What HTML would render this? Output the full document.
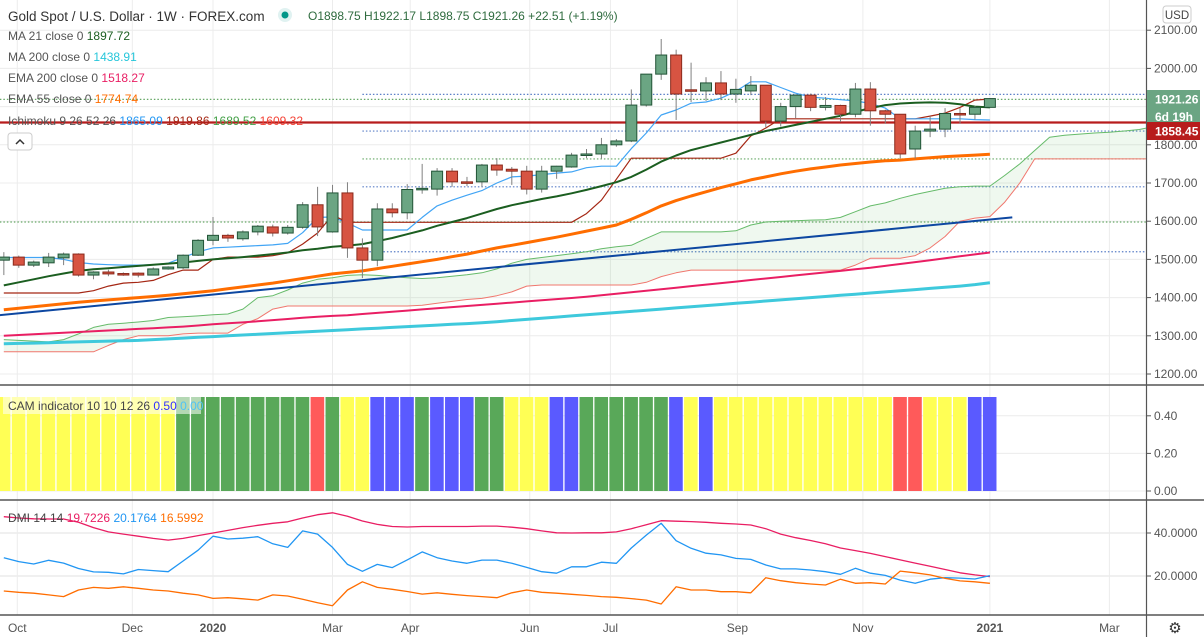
<!DOCTYPE html>
<html><head><meta charset="utf-8"><style>
html,body{margin:0;padding:0;background:#fff;}
body{width:1204px;height:637px;overflow:hidden;font-family:"Liberation Sans","DejaVu Sans",sans-serif;}
svg text{font-family:"Liberation Sans","DejaVu Sans",sans-serif;}
</style></head><body>
<svg id="chart" width="1204" height="637" viewBox="0 0 1204 637" xmlns="http://www.w3.org/2000/svg">
<defs>
<clipPath id="mainClip"><rect x="0" y="0" width="1146" height="385"/></clipPath>
<clipPath id="dmiClip"><rect x="0" y="500" width="1146" height="115"/></clipPath>
</defs>
<g id="grid"></g>
<g id="levels" clip-path="url(#mainClip)"></g>
<g id="cloud" clip-path="url(#mainClip)"></g>
<g id="lines" clip-path="url(#mainClip)"></g>
<g id="candles"></g>
<g id="cam"></g>
<g id="dmi" clip-path="url(#dmiClip)"></g>
<g id="axes"></g>
<g id="legend">
<text x="8" y="21" font-size="13.5" fill="#333">Gold Spot / U.S. Dollar · 1W · FOREX.com</text>
<circle cx="285" cy="15" r="7" fill="#e0f2f1"/>
<circle cx="285" cy="15" r="3.5" fill="#009688"/>
<text x="308" y="20" font-size="12" fill="#2e6b3e">O1898.75  H1922.17  L1898.75  C1921.26  +22.51 (+1.19%)</text>
<text x="8" y="40" font-size="12" fill="#555">MA 21 close 0 <tspan fill="#1b5e20">1897.72</tspan></text>
<text x="8" y="61" font-size="12" fill="#555">MA 200 close 0 <tspan fill="#26c6da">1438.91</tspan></text>
<text x="8" y="82" font-size="12" fill="#555">EMA 200 close 0 <tspan fill="#e91e63">1518.27</tspan></text>
<text x="8" y="103" font-size="12" fill="#555">EMA 55 close 0 <tspan fill="#ff6d00">1774.74</tspan></text>
<text x="8" y="125" font-size="12" fill="#555">Ichimoku 9 26 52 26 <tspan fill="#2196f3">1865.09</tspan> <tspan fill="#a52714">1919.86</tspan> <tspan fill="#43a047">1689.52</tspan> <tspan fill="#f44336">1609.32</tspan></text>
<rect x="8" y="133" width="24" height="17" rx="3" fill="#fff" stroke="#ccc"/>
<path d="M16 144 L20 140 L24 144" fill="none" stroke="#333" stroke-width="1.5"/>
<rect x="3" y="397" width="198" height="17" fill="rgba(255,255,255,0.55)"/>
<text x="8" y="410" font-size="12" fill="#444">CAM indicator 10 10 12 26 <tspan fill="#3030ff">0.50</tspan> <tspan fill="#4fc3f7">0.00</tspan></text>
<text x="8" y="522" font-size="12" fill="#444">DMI 14 14 <tspan fill="#e91e63">19.7226</tspan> <tspan fill="#2196f3">20.1764</tspan> <tspan fill="#ff6d00">16.5992</tspan></text>
</g>
</svg>
<script>
// ---- data (week index i from -14 to 52; i=0 is week of Jan 6 2020) ----
const firstWeek = -14;
const opens  = [1498,1506,1485,1491,1504,1514,1459,1467,1463,1464,1459,1475,1478,1511,1550,1563,1554,1572,1585,1569,1584,1643,1572,1674,1530,1498,1632,1622,1683,1684,1731,1703,1703,1747,1736,1731,1684,1731,1742,1772,1776,1800,1810,1904,1985,2035,1944,1941,1962,1933,1941,1956,1862,1900,1930,1898,1903,1880,1946,1889,1880,1789,1836,1841,1882,1880,1898];
const highs  = [1519,1510,1497,1517,1518,1516,1469,1473,1466,1466,1479,1482,1513,1553,1611,1567,1576,1590,1591,1590,1650,1690,1695,1702,1555,1647,1647,1697,1750,1739,1739,1716,1750,1765,1742,1745,1745,1745,1779,1789,1818,1815,1945,1985,2077,2049,2015,1977,1993,1973,1980,1956,1910,1932,1934,1925,1905,1962,1964,1892,1880,1850,1875,1896,1896,1902,1922];
const lows   = [1459,1478,1480,1480,1485,1455,1448,1456,1457,1453,1458,1473,1475,1509,1537,1546,1549,1563,1560,1565,1580,1561,1570,1504,1451,1482,1610,1605,1672,1667,1690,1692,1690,1719,1695,1670,1675,1711,1740,1765,1764,1795,1807,1900,1970,1865,1912,1915,1917,1910,1930,1846,1848,1870,1888,1890,1860,1872,1850,1855,1764,1764,1820,1820,1855,1866,1898];
const closes = [1506,1485,1493,1506,1514,1459,1467,1462,1462,1459,1475,1480,1511,1550,1563,1556,1572,1587,1569,1584,1643,1585,1674,1530,1498,1632,1622,1683,1686,1731,1703,1701,1747,1734,1731,1684,1731,1744,1773,1776,1800,1810,1904,1985,2035,1933,1943,1962,1933,1945,1956,1862,1900,1930,1898,1903,1880,1946,1889,1880,1776,1836,1841,1882,1878,1898,1921];
const ma21   = [1432,1440,1448,1456,1463,1470,1474,1477,1480,1483,1486,1489,1492,1496,1500,1503,1506,1510,1514,1518,1524,1528,1533,1536,1540,1548,1556,1566,1576,1588,1598,1608,1620,1632,1642,1650,1658,1665,1673,1682,1692,1702,1716,1735,1756,1772,1786,1796,1806,1816,1826,1836,1844,1852,1860,1868,1876,1886,1896,1904,1908,1910,1911,1910,1906,1900,1898];
const tenkan = [1505,1505,1505,1505,1500,1492,1488,1486,1485,1485,1486,1490,1505,1520,1530,1532,1534,1536,1538,1542,1570,1610,1611,1595,1577,1577,1577,1577,1610,1640,1655,1668,1680,1700,1716,1718,1722,1726,1729,1740,1744,1744,1790,1831,1878,1891,1909,1912,1922,1940,1965,1965,1950,1935,1925,1922,1918,1915,1908,1896,1868,1868,1868,1868,1868,1866,1865];
const kijun  = [1412,1412,1412,1412,1412,1412,1418,1430,1438,1440,1445,1460,1472,1472,1500,1506,1506,1506,1510,1517,1540,1569,1616,1597,1597,1597,1597,1597,1597,1597,1597,1597,1597,1597,1597,1597,1597,1597,1597,1620,1655,1710,1765,1765,1765,1765,1765,1765,1765,1778,1823,1844,1868,1868,1868,1868,1868,1868,1868,1868,1868,1868,1875,1883,1898,1917,1920];
const ema55  = [1368,1372,1376,1380,1384,1388,1391,1394,1397,1400,1403,1406,1410,1414,1418,1423,1428,1433,1438,1444,1450,1456,1462,1466,1470,1476,1482,1488,1494,1500,1507,1514,1522,1530,1537,1544,1551,1558,1566,1574,1582,1590,1605,1622,1640,1654,1666,1677,1688,1698,1708,1716,1724,1731,1737,1742,1747,1751,1755,1758,1760,1763,1766,1769,1771,1773,1775];
const ema200 = [1300,1302,1304,1306,1308,1310,1312,1314,1316,1318,1320,1322,1324,1327,1330,1333,1335,1338,1341,1344,1347,1350,1352,1354,1357,1360,1363,1366,1369,1372,1375,1378,1381,1384,1387,1390,1393,1396,1399,1402,1406,1410,1414,1418,1422,1426,1430,1434,1438,1442,1446,1450,1454,1458,1462,1466,1470,1474,1478,1483,1488,1493,1498,1503,1508,1513,1518];
const ma200  = [1279,1280,1281,1282,1283,1284,1285,1286,1287,1288,1290,1292,1294,1296,1298,1300,1302,1304,1306,1308,1310,1312,1314,1316,1318,1320,1322,1324,1326,1328,1330,1332,1334,1337,1340,1343,1346,1349,1352,1355,1358,1361,1364,1367,1370,1373,1376,1379,1382,1385,1388,1391,1394,1397,1400,1403,1406,1409,1412,1415,1418,1421,1424,1427,1430,1434,1439];
// Ichimoku leading spans (already shifted, i=-14..66)
const senkouA = [1290,1288,1286,1284,1290,1305,1322,1330,1333,1336,1340,1348,1350,1352,1355,1357,1370,1400,1405,1420,1438,1448,1452,1458,1460,1458,1455,1452,1450,1452,1456,1460,1465,1475,1490,1500,1505,1510,1515,1520,1528,1533,1537,1555,1572,1572,1572,1572,1572,1575,1590,1598,1600,1601,1603,1604,1610,1625,1640,1648,1660,1670,1678,1686,1690,1692,1692,1720,1750,1785,1820,1825,1828,1831,1833,1836,1840,1848,1870,1890,1896];
const senkouB = [1258,1258,1258,1258,1258,1258,1258,1275,1290,1300,1300,1300,1305,1307,1307,1307,1330,1345,1370,1378,1378,1378,1378,1378,1378,1378,1378,1378,1380,1385,1390,1395,1398,1405,1415,1430,1433,1433,1433,1433,1433,1433,1433,1440,1455,1465,1472,1472,1472,1472,1472,1472,1472,1472,1472,1472,1472,1485,1503,1503,1503,1510,1530,1560,1600,1608,1612,1650,1700,1763,1763,1763,1763,1763,1763,1763,1763,1763,1763,1763,1763];
const trendStart = {week:-14.3, price:1354};
const trendEnd = {week:53.5, price:1610};
const levelPrices = [1932,1919,1836,1763,1690,1598,1520];
const levelColors = ['#5b7fc7','#66a866','#5b7fc7','#66a866','#5b7fc7','#66a866','#5b7fc7'];
const levelFromWeek = [10,-14.5,10,10,10,-14.5,10];
const supportLevel = 1858.45;
const priceTicks = [2100,2000,1900,1800,1700,1600,1500,1400,1300,1200];
const priceTickLabels = ['2100.00','2000.00','','1800.00','1700.00','1600.00','1500.00','1400.00','1300.00','1200.00'];
// CAM: Y=yellow G=green R=red B=blue
const camColors = ['Y','Y','Y','Y','Y','Y','Y','Y','Y','Y','Y','Y','G','G','G','G','G','G','G','G','G','R','G','Y','Y','B','B','B','G','B','B','B','G','G','Y','Y','Y','B','B','G','G','G','G','G','G','B','Y','B','Y','Y','Y','Y','Y','Y','Y','Y','Y','Y','Y','Y','R','R','Y','Y','Y','B','B'];
const camValues = [0.5,0.5,0.5,0.5,0.5,0.5,0.5,0.5,0.5,0.5,0.5,0.5,0.5,0.5,0.5,0.5,0.5,0.5,0.5,0.5,0.5,0.5,0.5,0.5,0.5,0.5,0.5,0.5,0.5,0.5,0.5,0.5,0.5,0.5,0.5,0.5,0.5,0.5,0.5,0.5,0.5,0.5,0.5,0.5,0.5,0.5,0.5,0.5,0.5,0.5,0.5,0.5,0.5,0.5,0.5,0.5,0.5,0.5,0.5,0.5,0.5,0.5,0.5,0.5,0.5,0.5,0.5];
const camTicks = [0.4,0.2,0];
const camTickLabels = ['0.40','0.20','0.00'];
const dmiAdx   = [47.6,47.0,46.6,46.5,46.5,45.0,42.5,40.5,39.5,38.5,37.5,36.7,37.5,38.8,40,41.2,42.5,43.6,44.5,45.2,47,48.5,49.4,47.8,45.6,44,43,42.8,43,43,43,43,43.2,43.2,42.7,42,41,40.1,40,40.1,40.1,40.5,42,43.8,45.7,45.5,45.3,45,44.5,44.2,43.7,42,39.5,37.8,36.5,35,33,31.8,30.5,29,27.5,26,24.5,23,21.5,20.5,19.72];
const dmiPlus  = [28.5,26.7,25.6,27.3,26,23.5,21.9,21.7,21,23,22.5,22,27,32,38.5,37.2,37.6,38.3,35,33.3,41,39.5,33.3,25.4,22.2,25.4,23.9,27.5,31.2,28.5,27,25.9,27.4,27.4,25.9,24,22,21.3,24.3,24.3,26.4,25.9,33,39,44.5,36.4,32.9,30.6,29.8,28.2,27.7,25.1,23.3,23.3,22.8,22,20.8,23.6,21.3,20.3,18.1,16.6,18.5,19.2,19,18.6,20.18];
const dmiMinus = [13,12.4,12,11.2,10.4,13.5,14.7,14.3,15,14.3,13.5,13,12,11.2,9.6,9.9,9.4,8.8,11.2,10.7,9.2,7.6,6.2,13.5,17.3,14.7,13.8,12.8,11.6,12.2,11.5,10.9,10.4,9.9,12.2,13.5,12.4,12,11.5,11,10.4,10.1,9.5,8.8,7,15,13.5,13.5,12.7,12.7,12.2,19.2,17.8,16.9,16.3,15.8,18.5,16.6,16.9,16.3,22.3,21.5,20.5,18.9,17.7,17.3,16.6];
const dmiTicks = [40,20];
const dmiTickLabels = ['40.0000','20.0000'];
const timeLabels = ['Oct','Dec','2020','Mar','Apr','Jun','Jul','Sep','Nov','2021','Mar'];
const timeLabelWeeks = [-13.1,-5.4,0,8,13.2,21.2,26.6,35.1,43.5,52,60];

// ---- scales ----
const xW = i => 213 + 14.94 * i;
const yP = p => 374 - (p - 1200) * 0.382;
const yC = v => 491 - v * 188;
const yD = v => 576 - (v - 20) * 2.15;
const NS = 'http://www.w3.org/2000/svg';
function el(tag, attrs, parent){const e=document.createElementNS(NS,tag);for(const k in attrs)e.setAttribute(k,attrs[k]);parent.appendChild(e);return e;}
const G = id => document.getElementById(id);

// grid
const grid = G('grid');
priceTicks.forEach(p=>{const l=el('line',{x1:0,x2:1146,y1:yP(p),y2:yP(p),stroke:'#ececec','stroke-width':1},grid);

});
camTicks.forEach(v=>{const l=el('line',{x1:0,x2:1146,y1:yC(v),y2:yC(v),stroke:'#ececec'},grid);

});
dmiTicks.forEach(v=>{const l=el('line',{x1:0,x2:1146,y1:yD(v),y2:yD(v),stroke:'#ececec','stroke-width':1.5},grid);

});
timeLabelWeeks.forEach(w=>{const l=el('line',{x1:xW(w),x2:xW(w),y1:0,y2:615,stroke:'#ececec'},grid);

});

// levels
const lv = G('levels');
levelPrices.forEach((p,k)=>{const l=el('line',{x1:xW(levelFromWeek[k]),x2:1146,y1:yP(p),y2:yP(p),stroke:levelColors[k],'stroke-width':1.2,'stroke-dasharray':'1.5,2'},lv);

});
const sl = el('line',{x1:0,x2:1146,y1:yP(supportLevel),y2:yP(supportLevel),stroke:'#b71c1c','stroke-width':2.2},lv);



// cloud
const cl = G('cloud');
let topPath='', botPath='';
senkouA.forEach((v,k)=>{topPath+=(k?'L':'M')+xW(k+firstWeek).toFixed(1)+' '+yP(v).toFixed(1)+' ';});
for(let k=senkouB.length-1;k>=0;k--){botPath+='L'+xW(k+firstWeek).toFixed(1)+' '+yP(senkouB[k]).toFixed(1)+' ';}
const cf = el('path',{d:topPath+botPath+'Z',fill:'rgba(76,175,80,0.09)',stroke:'none'},cl);


function line(arr,parent,color,w,name,yfn){let d='';arr.forEach((v,k)=>{d+=(k?'L':'M')+xW(k+firstWeek).toFixed(1)+' '+yfn(v).toFixed(1)+' ';});
const p=el('path',{d:d,fill:'none',stroke:color,'stroke-width':w,'stroke-linejoin':'round'},parent);


return p;}
line(senkouA,cl,'#66bb6a',1,'senkou-span-a',yP);
line(senkouB,cl,'#f0776e',1,'senkou-span-b',yP);

// indicator lines
const ln = G('lines');
line(ma200,ln,'#3ec9dc',3,'ma200-line',yP);
line(ema200,ln,'#e91e63',2,'ema200-line',yP);
const tl = el('line',{x1:xW(trendStart.week),y1:yP(trendStart.price),x2:xW(trendEnd.week),y2:yP(trendEnd.price),stroke:'#0d47a1','stroke-width':2},ln);


line(ema55,ln,'#ff6d00',3,'ema55-line',yP);
line(kijun,ln,'#a52714',1.2,'kijun-line',yP);
line(tenkan,ln,'#42a5f5',1.2,'tenkan-line',yP);
line(ma21,ln,'#1b5e20',2,'ma21-line',yP);

// candles
const cg = G('candles');
opens.forEach((o,k)=>{const c=closes[k],x=xW(k+firstWeek),up=c>=o;
const wk=el('line',{x1:x,x2:x,y1:yP(highs[k]),y2:yP(lows[k]),stroke:'#808080','stroke-width':1},cg);


const t=yP(Math.max(o,c)),h=Math.max(1.5,yP(Math.min(o,c))-t);
const b=el('rect',{x:x-5.5,y:t,width:11,height:h,fill:up?'#6ba583':'#d75442',stroke:up?'#225437':'#8b2a1c','stroke-width':1},cg);

});

// CAM
const cm = G('cam');
const camMap={Y:'#ffff55',G:'#59a859',R:'#ff5a5a',B:'#5a5aff'};
camColors.forEach((c,k)=>{const x=xW(k+firstWeek);
const r=el('rect',{x:x-7,y:yC(camValues[k]),width:13.6,height:yC(0)-yC(camValues[k]),fill:camMap[c]},cm);

});

// DMI
const dm = G('dmi');
line(dmiAdx,dm,'#e91e63',1.3,'dmi-adx-line',yD);
line(dmiPlus,dm,'#2196f3',1.3,'dmi-plus-line',yD);
line(dmiMinus,dm,'#ff6d00',1.3,'dmi-minus-line',yD);

// axes
const ax = G('axes');
[385,500,615].forEach(y=>{const s=el('line',{x1:0,x2:1204,y1:y,y2:y,stroke:'#555','stroke-width':1.5},ax);

});
const va=el('line',{x1:1146.5,x2:1146.5,y1:0,y2:637,stroke:'#555','stroke-width':1.2},ax);


function tick(y,label,name){el('line',{x1:1147,x2:1151,y1:y,y2:y,stroke:'#555'},ax);
const t=el('text',{x:1154,y:y+4,'font-size':12,fill:'#555'},ax);
t.textContent=label;

}
priceTicks.forEach((p,k)=>{if(priceTickLabels[k])tick(yP(p),priceTickLabels[k],'price-tick-label');});
camTicks.forEach((v,k)=>tick(yC(v),camTickLabels[k],'cam-tick-label'));
dmiTicks.forEach((v,k)=>tick(yD(v),dmiTickLabels[k],'dmi-tick-label'));
timeLabels.forEach((s,k)=>{const t=el('text',{x:xW(timeLabelWeeks[k]),y:632,'font-size':12,fill:'#555','text-anchor':'middle','font-weight':(s==='2020'||s==='2021')?'bold':'normal'},ax);
t.textContent=s;

});
// price tags
function tag(y,h,bg,label,name){const r=el('rect',{x:1147,y:y,width:53,height:h,fill:bg},ax);


const t=el('text',{x:1155,y:y+h/2+4.5,'font-size':12,'font-weight':'bold',fill:'#fff'},ax);
t.textContent=label;

}
tag(90,18,'#6ba583','1921.26','last-price-tag');
tag(108,17,'#6ba583','6d 19h','bar-countdown-tag');
tag(122,18,'#b71c1c','1858.45','support-price-tag');
const ub=el('rect',{x:1163,y:6,width:28,height:17,rx:3,fill:'#fff',stroke:'#ccc'},ax);


const ut=el('text',{x:1177,y:19,'font-size':11.5,fill:'#444','text-anchor':'middle'},ax);
ut.textContent='USD';


const gear=el('text',{x:1175,y:633,'font-size':15,fill:'#333','text-anchor':'middle'},ax);
gear.textContent='⚙';


</script>
</body></html>
